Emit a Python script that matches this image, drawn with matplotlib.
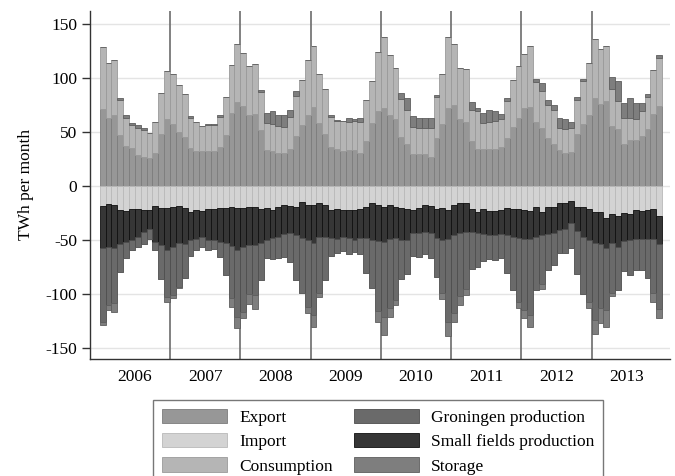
import numpy as np
import matplotlib
matplotlib.use("Agg")
import matplotlib.pyplot as plt

plt.rcParams['font.family'] = ['Liberation Serif', 'DejaVu Serif']

years = ['2006', '2007', '2008', '2009', '2010', '2011', '2012', '2013']

# monthly gas balance, TWh per month, Jan 2006 .. Dec 2013
# uses (drawn above zero)
export = [71, 63, 66, 47, 37, 35, 29, 27, 26, 31, 48, 62,
          57, 50, 45, 35.5, 32, 32, 32, 32, 36, 47, 67.6, 78,
          74, 66, 67, 51.5, 33, 32.4, 31, 31, 34, 46, 56, 66,
          73, 58, 48, 36, 34, 32.4, 33, 33, 31, 41.7, 58, 69,
          72.5, 66, 62, 45, 38.6, 30, 30, 30, 27, 44.7, 57, 72.5,
          75, 62, 59, 41.7, 34, 34, 34.6, 34.6, 36, 44.7, 54.6, 63,
          72, 73, 59, 54, 44.7, 39, 33, 31, 31.5, 48, 57.7, 65.7,
          81, 76, 78.7, 55.5, 52.5, 39, 43, 42.6, 46, 52.5, 67, 74]
consumption = [58, 51, 51, 32.5, 26, 21.5, 25, 25, 23.5, 28, 38, 44,
               47, 43.5, 40, 27.5, 27, 23.5, 24.2, 24.2, 27.7, 35, 44.4, 53,
               49, 45, 46, 35.6, 25, 25, 24.7, 23.7, 29.4, 37.4, 42, 51,
               56.6, 46, 42, 27.9, 26, 27.6, 26.6, 26.7, 28.6, 38.3, 39, 55,
               65.1, 55, 47.5, 35.4, 31.4, 24.2, 24, 24, 27, 37.3, 47, 65.5,
               56, 47.5, 49, 28.4, 35.5, 24.6, 24.6, 25.5, 26, 34.3, 43.4, 48,
               50, 56.6, 37.3, 34, 30, 31.1, 20.7, 21.4, 22.5, 32, 39.8, 47.9,
               54.8, 50.5, 51.3, 34.1, 26.5, 23.5, 19.8, 19, 23.3, 30, 40, 44.2]
storage_in = [0, 0, 0, 1.5, 3, 1.5, 2, 2, 0, 0, 0, 0,
              0, 0, 0, 2, 0, 0, 1.5, 1.5, 2, 0, 0, 0,
              0, 0, 0, 1.5, 10, 12, 10, 11, 7, 4.6, 0, 0,
              0, 0, 0, 1.5, 1, 0, 3, 2, 3, 0, 0, 0,
              0, 0, 0, 6, 11, 10.8, 9, 9, 9, 2, 0, 0,
              0, 0, 0, 7.7, 3, 9.3, 10.8, 9.3, 5, 2, 0, 0,
              0, 0, 2.5, 7.7, 4.6, 4.6, 9.3, 9.3, 5, 2, 1.5, 0,
              0, 0, 0, 11.4, 18, 14.5, 19, 15.4, 7.7, 3, 0, 2.8]

# sources (drawn below zero)
imports = [18.5, 17, 17.6, 22, 22.8, 21.6, 21.6, 22, 22, 18.5, 20.7, 20.7,
           19, 18.5, 20.7, 23.8, 22, 22.8, 21.6, 21.6, 20.7, 20, 19, 20.7,
           20.7, 19, 19, 21.6, 20.7, 22, 19, 18, 18.5, 19, 14.5, 17.6,
           17.6, 16, 17.6, 22, 21.6, 22, 22, 22, 21.6, 19, 15.4, 17.6,
           19, 17.6, 19, 20.7, 21.6, 22, 20.7, 17.6, 18.5, 21.6, 20.7, 22,
           17.6, 16, 16, 21, 23.8, 21.6, 22.8, 22.8, 22.2, 20.7, 21.6, 21.6,
           22.2, 22.8, 19.7, 24.4, 19.7, 19, 16, 15.4, 13.6, 19, 19, 21.6,
           23.8, 24.4, 30, 26.2, 27.8, 24.7, 26, 22.2, 22.8, 22.2, 21.6, 27.8]
small_fields = [39, 39, 39.5, 32, 28.7, 28.4, 26, 21, 18, 33, 34, 38.6,
                37, 34.6, 33, 26, 27, 24, 28.4, 28.4, 30.9, 33, 36.4, 38.6,
                35.5, 35.8, 35.8, 31.5, 29.3, 26, 28.4, 26, 25.3, 26, 34, 32.4,
                34.9, 30.9, 29.3, 26, 27.8, 25.3, 26, 27.8, 26.5, 29, 34.6, 33.3,
                32.4, 31.8, 29.3, 29.6, 28.4, 21.6, 23, 24.7, 24.7, 26.8, 29.3, 27.2,
                27.8, 27.2, 26.5, 22, 20, 22.8, 22.2, 22.2, 22.2, 24.7, 25.3, 26.8,
                27.2, 25.9, 27.8, 21, 24.7, 24.7, 24.7, 24.7, 20.4, 22.2, 27.8, 28.4,
                29.3, 29.6, 27.8, 26.2, 28.4, 26.2, 24.4, 27.2, 25.9, 27.2, 27.8, 26]
groningen = [68, 54, 51.5, 26, 15.4, 9.3, 8.6, 10.5, 9.3, 7.7, 31.5, 43,
             44.7, 40, 31.8, 15.4, 10, 9.3, 9.3, 8.6, 14.5, 29, 48.5, 61.7,
             60, 44.7, 46.3, 34, 17, 19.4, 18.8, 22, 26.2, 41.7, 50.3, 61.7,
             67, 52.5, 40.4, 17, 12.3, 13.3, 14.5, 11.7, 14.5, 32.4, 44.7, 64.8,
             69.4, 63.9, 57, 35.5, 31, 21.6, 21.6, 20.7, 23.8, 35.5, 49.4, 77,
             72.5, 58.6, 52.5, 34, 30.9, 24.7, 22.2, 23.5, 22.5, 35.5, 49.4, 58.6,
             65.4, 71, 48.8, 45, 33, 29, 21.6, 21.6, 23.8, 40, 53.4, 57,
             71, 58.6, 57, 46.3, 40, 27.8, 32.4, 28.4, 29.3, 36.1, 50, 59.6]
storage_out = [3, 4.6, 7.7, 0, 0, 0, 0, 0, 0, 0, 0, 4.6,
               3, 1.5, 0, 0, 0, 0, 0, 0, 0, 0, 7.7, 10.8,
               6.2, 9.3, 12.3, 0, 0, 0, 0, 0, 0, 0, 0, 6.2,
               10.8, 3, 0, 0, 0, 0, 0, 0, 0, 0, 0, 9.9,
               17, 8.3, 4.6, 0, 0, 0, 0, 0, 0, 0, 5.6, 13,
               7.7, 8.6, 6.2, 0, 0, 0, 0, 0, 0, 0, 0, 6.2,
               7.7, 10.8, 0, 5, 0, 0, 0, 0, 0, 0, 0, 6.2,
               13, 14, 15.4, 3, 0, 0, 0, 0, 0, 0, 7.7, 8.3]

COLORS = {
    'Export': ('#979797', '#7c7c7c'),
    'Import': ('#d3d3d3', '#b9b9b9'),
    'Consumption': ('#b5b5b5', '#9a9a9a'),
    'Groningen production': ('#6a6a6a', '#4e4e4e'),
    'Small fields production': ('#363636', '#101010'),
    'Storage': ('#7e7e7e', '#5e5e5e'),
}

x = np.arange(len(export))

fig = plt.figure(figsize=(6.75, 4.76), dpi=100)
ax = fig.add_axes([0.133, 0.246, 0.86, 0.731])


def stack(series, sign):
    handles = {}
    base = np.zeros(len(x))
    for name, vals in series:
        vals = np.asarray(vals, dtype=float) * sign
        fc, ec = COLORS[name]
        h = ax.bar(x, vals, width=1.0, bottom=base, color=fc, edgecolor=ec,
                   linewidth=0.6, zorder=3)
        handles[name] = h
        base = base + vals
    return handles


up = stack([('Export', export), ('Consumption', consumption),
            ('Storage', storage_in)], 1)
down = stack([('Import', imports), ('Small fields production', small_fields),
              ('Groningen production', groningen), ('Storage', storage_out)], -1)

# year separators
for k in range(1, len(years)):
    ax.axvline(12 * k - 0.5, color='#6c6c6c', lw=1.2, zorder=2)

ax.set_xlim(-2.2, 96.9)
ax.set_ylim(-160, 162)
ax.set_yticks([150, 100, 50, 0, -50, -100, -150])
ax.set_yticklabels(['150', '100', '50', '0', '-50', '-100', '-150'])
ax.set_xticks(np.arange(len(years)) * 12 + 5.5)
ax.set_xticklabels(years)
ax.tick_params(axis='x', length=0, pad=7, labelsize=12.5)
ax.tick_params(axis='y', length=6, width=1, color='#333333', labelsize=12.5, pad=3)
ax.grid(axis='y', color='#e4e4e4', lw=1, zorder=0)
ax.set_axisbelow(True)
for s in ['top', 'right']:
    ax.spines[s].set_visible(False)
for s in ['left', 'bottom']:
    ax.spines[s].set_color('#333333')
    ax.spines[s].set_linewidth(1)
ax.set_ylabel('TWh per month', fontsize=12.5, labelpad=8)

order = ['Export', 'Import', 'Consumption', 'Groningen production',
         'Small fields production', 'Storage']
allh = {**up, **down}
leg = fig.legend([allh[n] for n in order], order, loc='upper left',
                 bbox_to_anchor=(0.227, 0.16), borderaxespad=0, ncol=2,
                 fontsize=12.5, frameon=True, fancybox=False,
                 edgecolor='#555555', handlelength=3.75, handleheight=0.9,
                 handletextpad=0.7, columnspacing=1.2, labelspacing=0.42,
                 borderpad=0.5)
leg.get_frame().set_linewidth(1.0)

fig.savefig('out.png', dpi=100)
